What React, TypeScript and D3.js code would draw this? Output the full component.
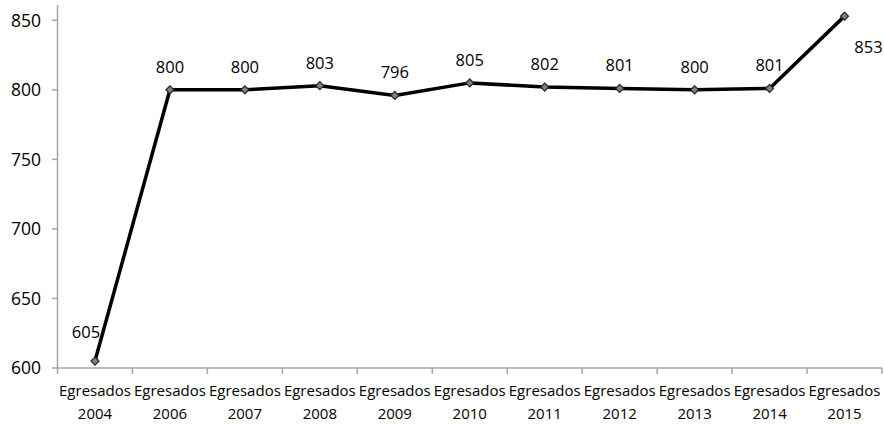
import React from "react";
import * as d3 from "d3";

// Graduates per cohort year
const years = ["2004", "2006", "2007", "2008", "2009", "2010", "2011", "2012", "2013", "2014", "2015"];
const categoryPrefix = "Egresados";
const graduates = [605, 800, 800, 803, 796, 805, 802, 801, 800, 801, 853];
const yTicks = [600, 650, 700, 750, 800, 850];

const W = 884;
const H = 424;
const FONT = "'Open Sans', 'DejaVu Sans', sans-serif";

export default function App() {
  const x = d3.scaleBand<string>().domain(years).range([57.5, 882]).paddingInner(0).paddingOuter(0);
  const y = d3.scaleLinear().domain([600, 861]).range([368, 5]);

  const cx = (i: number) => (x(years[i]) ?? 0) + x.bandwidth() / 2;
  const line = d3
    .line<number>()
    .x((_, i) => cx(i))
    .y((d) => y(d));

  const axisColor = "#a6a6a6";
  const xTickPositions = [...years.map((yr) => x(yr) ?? 0), x.range()[1]];

  // Data-label placement: above the point by default, left of the first point,
  // and right/below the last point.
  const labelPos = (i: number, v: number) => {
    const px = cx(i);
    const py = y(v);
    if (i === 0) return { lx: px - 9, ly: py - 23 };
    if (i === graduates.length - 1) return { lx: px + 24, ly: py + 37 };
    return { lx: px, ly: py - 17 };
  };

  // Square marker rotated 45° to form a diamond
  const marker = d3.symbol().type(d3.symbolSquare).size(32)();

  return (
    <svg
      width={W}
      height={H}
      style={{ position: "absolute", left: 0, top: 0, background: "#fff" }}
      fontFamily={FONT}
    >
      {/* y axis */}
      <line x1={57.5} x2={57.5} y1={y(600)} y2={y.range()[1]} stroke={axisColor} strokeWidth={1.5} />
      {yTicks.map((t) => (
        <g key={t}>
          <line x1={52} x2={57.5} y1={y(t)} y2={y(t)} stroke={axisColor} strokeWidth={1.5} />
          <text x={41} y={y(t)} dy="0.36em" textAnchor="end" fontSize={17.5} fill="#000">
            {t}
          </text>
        </g>
      ))}

      {/* x axis */}
      <line x1={57.5} x2={882} y1={y(600)} y2={y(600)} stroke={axisColor} strokeWidth={1.5} />
      {xTickPositions.map((p, i) => (
        <line key={i} x1={p} x2={p} y1={y(600)} y2={y(600) + 6} stroke={axisColor} strokeWidth={1.5} />
      ))}
      {years.map((yr, i) => (
        <text key={yr} x={cx(i)} textAnchor="middle" fontSize={15} fill="#000">
          <tspan x={cx(i)} y={396}>
            {categoryPrefix}
          </tspan>
          <tspan x={cx(i)} y={419}>
            {yr}
          </tspan>
        </text>
      ))}

      {/* series */}
      <path d={line(graduates) ?? ""} fill="none" stroke="#000" strokeWidth={3.5} strokeLinejoin="round" />
      {graduates.map((v, i) => (
        <path
          key={i}
          d={marker ?? ""}
          transform={`translate(${cx(i)},${y(v)}) rotate(45)`}
          fill="#7f7f7f"
          stroke="#262626"
          strokeWidth={1.2}
        />
      ))}
      {graduates.map((v, i) => {
        const { lx, ly } = labelPos(i, v);
        return (
          <text key={i} x={lx} y={ly} textAnchor="middle" fontSize={16.5} fill="#000">
            {v}
          </text>
        );
      })}
    </svg>
  );
}
